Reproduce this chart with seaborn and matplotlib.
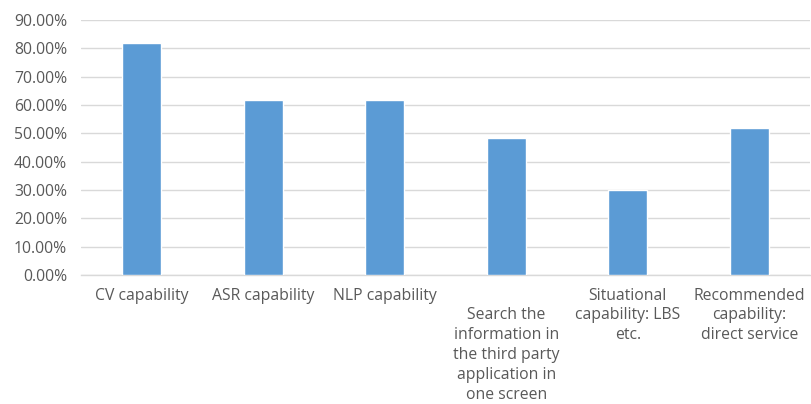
import numpy as np
import pandas as pd
import seaborn as sns
import matplotlib.pyplot as plt
from matplotlib.ticker import PercentFormatter, MultipleLocator

categories = [
    "CV capability",
    "ASR capability",
    "NLP capability",
    "\nSearch the\ninformation in\nthe third party\napplication in\none screen",
    "Situational\ncapability: LBS\netc.",
    "Recommended\ncapability:\ndirect service",
]
values = [0.818, 0.618, 0.618, 0.483, 0.300, 0.518]

df = pd.DataFrame({"category": categories, "value": values})

sns.set_theme(style="white")
plt.rcParams['font.family'] = ['Open Sans', 'DejaVu Sans']

fig = plt.figure(figsize=(8.11, 4.04), dpi=100)
ax = fig.add_axes([81 / 811, 129 / 404, 729 / 811, 255 / 404])

sns.barplot(data=df, x="category", y="value", color="#5B9BD5", width=0.325,
            saturation=1, ax=ax, zorder=3)

ax.set_ylim(0, 0.9)
ax.yaxis.set_major_locator(MultipleLocator(0.1))
ax.yaxis.set_major_formatter(PercentFormatter(1.0, decimals=2))
ax.grid(axis="y", color="#d9d9d9", linewidth=1, zorder=0)
ax.set_axisbelow(True)
for s in ["top", "right", "left"]:
    ax.spines[s].set_visible(False)
ax.spines["bottom"].set_color("#d9d9d9")
ax.spines["bottom"].set_linewidth(1)

ax.set_xlabel("")
ax.set_ylabel("")
ax.tick_params(axis="both", length=0, colors="#595959", labelsize=11.3)
ax.tick_params(axis="x", pad=9)
ax.tick_params(axis="y", pad=10)
for lbl in ax.get_xticklabels():
    lbl.set_linespacing(1.32)
    lbl.set_verticalalignment("top")

fig.savefig("out.png", dpi=100)
